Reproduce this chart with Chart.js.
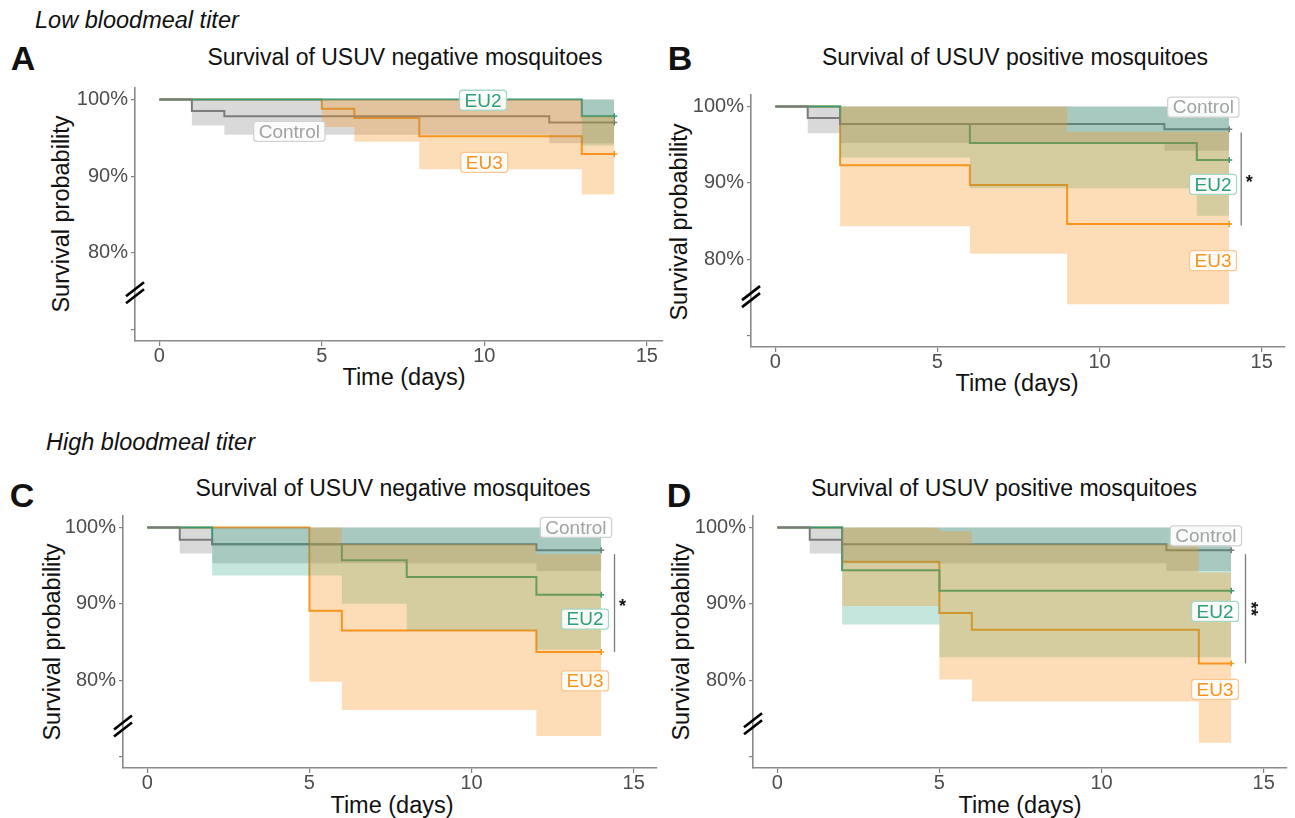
<!DOCTYPE html>
<html>
<head>
<meta charset="utf-8">
<script src="https://cdn.jsdelivr.net/npm/chart.js@4.4.1/dist/chart.umd.min.js"></script>
<style>
  body { margin: 0; width: 1295px; height: 818px; background: #fff; position: relative; overflow: hidden;
         font-family: "Liberation Sans", Arial, sans-serif; color: #111; }
  .t { position: absolute; white-space: nowrap; transform: translate(-50%, -50%); }
  .l { position: absolute; white-space: nowrap; transform: translateY(-50%); }
  .head { font-style: italic; font-size: 23.5px; }
  .letter { font-weight: bold; font-size: 34px; }
  .title { font-size: 23px; }
  .axt { font-size: 23.5px; }
  .rot { transform: translate(-50%, -50%) rotate(-90deg); }
  canvas { position: absolute; }
</style>
</head>
<body>

<div class="l head" style="left:35px;top:20px">Low bloodmeal titer</div>
<div class="l head" style="left:46px;top:442px">High bloodmeal titer</div>

<div class="t letter" style="left:23px;top:58px">A</div>
<div class="t letter" style="left:680px;top:58px">B</div>
<div class="t letter" style="left:22px;top:495px">C</div>
<div class="t letter" style="left:679px;top:495px">D</div>

<div class="t title" style="left:405px;top:57px">Survival of USUV negative mosquitoes</div>
<div class="t title" style="left:1015px;top:57px">Survival of USUV positive mosquitoes</div>
<div class="t title" style="left:393px;top:488px">Survival of USUV negative mosquitoes</div>
<div class="t title" style="left:1004px;top:488px">Survival of USUV positive mosquitoes</div>

<div class="t axt rot" style="left:61px;top:214px">Survival probability</div>
<div class="t axt rot" style="left:679px;top:222px">Survival probability</div>
<div class="t axt rot" style="left:52px;top:642px">Survival probability</div>
<div class="t axt rot" style="left:681px;top:642px">Survival probability</div>

<div class="t axt" style="left:404px;top:377px">Time (days)</div>
<div class="t axt" style="left:1017px;top:383px">Time (days)</div>
<div class="t axt" style="left:392px;top:805px">Time (days)</div>
<div class="t axt" style="left:1020px;top:805px">Time (days)</div>

<canvas id="cA"></canvas>
<canvas id="cB"></canvas>
<canvas id="cC"></canvas>
<canvas id="cD"></canvas>

<script>
// ---- axis ticks ----
const xTicks = [0, 5, 10, 15];
const yTicks = [70, 80, 90, 100];

// ---- A: low titer, USUV negative ----
const aCtrlDays = [0, 1, 2, 12, 14];
const aCtrlSurv = [100, 98.5, 97.8, 97.0, 97.0];
const aCtrlLow  = [100, 96.6, 95.4, 94.3, 94.3];
const aCtrlHigh = [100, 100, 100, 100, 100];
const aEu2Days = [0, 13, 14];
const aEu2Surv = [100, 97.8, 97.8];
const aEu2Low  = [100, 94.0, 94.0];
const aEu2High = [100, 100, 100];
const aEu3Days = [0, 5, 6, 8, 13, 14];
const aEu3Surv = [100, 98.8, 97.6, 95.2, 92.9, 92.9];
const aEu3Low  = [100, 96.4, 94.5, 90.9, 87.6, 87.6];
const aEu3High = [100, 100, 100, 100, 97.8, 97.8];

// ---- B: low titer, USUV positive ----
const bCtrlDays = [0, 1, 2, 12, 14];
const bCtrlSurv = [100, 98.5, 97.7, 97.0, 97.0];
const bCtrlLow  = [100, 96.5, 95.2, 94.2, 94.2];
const bCtrlHigh = [100, 100, 100, 100, 100];
const bEu2Days = [0, 2, 6, 13, 14];
const bEu2Surv = [100, 97.7, 95.2, 93.0, 93.0];
const bEu2Low  = [100, 93.3, 89.3, 85.7, 85.7];
const bEu2High = [100, 100, 100, 100, 100];
const bEu3Days = [0, 2, 6, 9, 14];
const bEu3Surv = [100, 92.3, 89.7, 84.6, 84.6];
const bEu3Low  = [100, 84.3, 80.7, 74.1, 74.1];
const bEu3High = [100, 100, 100, 96.7, 96.7];

// ---- C: high titer, USUV negative ----
const cCtrlDays = [0, 1, 2, 12, 14];
const cCtrlSurv = [100, 98.4, 97.8, 97.0, 97.0];
const cCtrlLow  = [100, 96.6, 95.3, 94.3, 94.3];
const cCtrlHigh = [100, 100, 100, 100, 100];
const cEu2Days = [0, 2, 6, 8, 12, 14];
const cEu2Surv = [100, 97.8, 95.7, 93.5, 91.2, 91.2];
const cEu2Low  = [100, 93.7, 90.0, 86.5, 84.0, 84.0];
const cEu2High = [100, 100, 100, 100, 100, 100];
const cEu3Days = [0, 5, 6, 12, 14];
const cEu3Surv = [100, 89.1, 86.5, 83.7, 83.7];
const cEu3Low  = [100, 79.8, 76.1, 72.7, 72.7];
const cEu3High = [100, 100, 97.8, 96.5, 96.5];

// ---- D: high titer, USUV positive ----
const dCtrlDays = [0, 1, 2, 12, 14];
const dCtrlSurv = [100, 98.4, 97.8, 97.0, 97.0];
const dCtrlLow  = [100, 96.6, 95.3, 94.3, 94.3];
const dCtrlHigh = [100, 100, 100, 100, 100];
const dEu2Days = [0, 2, 5, 14];
const dEu2Surv = [100, 94.4, 91.7, 91.7];
const dEu2Low  = [100, 87.3, 83.0, 83.0];
const dEu2High = [100, 100, 100, 100];
const dEu3Days = [0, 2, 5, 6, 13, 14];
const dEu3Surv = [100, 95.5, 88.8, 86.6, 82.2, 82.2];
const dEu3Low  = [100, 89.7, 80.1, 77.2, 71.8, 71.8];
const dEu3High = [100, 100, 99.5, 97.8, 94.1, 94.1];

const FONT = '"Liberation Sans", Arial, sans-serif';
const STYLE = {
  Control: { line: '#7a7a7a', band: 'rgba(128,128,128,0.30)', text: '#a3a3a3', edge: '#d2d2d2', order: 3 },
  EU2:     { line: '#2a9d78', band: 'rgba(27,158,119,0.26)',  text: '#2aa07c', edge: '#a6d8c7', order: 2 },
  EU3:     { line: '#f8961e', band: 'rgba(248,150,30,0.32)',  text: '#f7941d', edge: '#fbc68d', order: 1 }
};

function pts(days, vals) { return days.map((d, i) => ({ x: d, y: vals[i] })); }

// one group = CI ribbon (upper filled to lower) + the KM step line
function groupSets(name, days, surv, low, high) {
  const s = STYLE[name];
  const last = days.length - 1;
  const hidden = { stepped: true, borderWidth: 0, borderColor: 'rgba(0,0,0,0)', pointRadius: 0, order: s.order };
  return [
    Object.assign({ data: pts(days, high), fill: '+1', backgroundColor: s.band }, hidden),
    Object.assign({ data: pts(days, low), fill: false }, hidden),
    { data: pts(days, surv), stepped: true, borderColor: s.line, borderWidth: 2, fill: false, order: 10,
      pointStyle: 'cross', pointBorderColor: s.line, pointBorderWidth: 1.5,
      pointRadius: c => c.dataIndex === last ? 3 : 0 }
  ];
}

// group labels, significance bracket, axis break marks
const extras = {
  id: 'extras',
  afterDatasetsDraw(chart, args, o) {
    const { ctx } = chart;
    const xs = chart.scales.x, ys = chart.scales.y;
    ctx.save();
    ctx.font = '19px ' + FONT;
    ctx.textAlign = 'center';
    ctx.textBaseline = 'middle';
    (o.labels || []).forEach(l => {
      const s = STYLE[l.name];
      const px = xs.getPixelForValue(l.x), py = ys.getPixelForValue(l.y);
      const w = ctx.measureText(l.name).width + 10, h = 20;
      ctx.beginPath();
      ctx.roundRect(px - w / 2, py - h / 2, w, h, 3);
      ctx.fillStyle = 'rgba(255,255,255,0.9)';
      ctx.fill();
      ctx.strokeStyle = s.edge;
      ctx.lineWidth = 1.3;
      ctx.stroke();
      ctx.fillStyle = s.text;
      ctx.fillText(l.name, px, py + 1);
    });
    if (o.bracket) {
      const b = o.bracket;
      const bx = xs.getPixelForValue(b.x);
      ctx.strokeStyle = '#7a7a7a';
      ctx.lineWidth = 1.3;
      ctx.beginPath();
      ctx.moveTo(bx, ys.getPixelForValue(b.from));
      ctx.lineTo(bx, ys.getPixelForValue(b.to));
      ctx.stroke();
      const sx = bx + 8, sy = ys.getPixelForValue((b.from + b.to) / 2);
      ctx.fillStyle = '#111';
      ctx.font = 'bold 18px ' + FONT;
      ctx.translate(sx, sy);
      if (b.stars.length > 1) ctx.rotate(Math.PI / 2);
      ctx.fillText(b.stars, 0, 4);
      ctx.setTransform(1, 0, 0, 1, 0, 0);
    }
    const kx = xs.left, ky = ys.getPixelForValue(o.breakAt);
    ctx.strokeStyle = '#000';
    ctx.lineWidth = 2.6;
    [-3.5, 3.5].forEach(off => {
      ctx.beginPath();
      ctx.moveTo(kx - 9, ky + off + 7);
      ctx.lineTo(kx + 9, ky + off - 7);
      ctx.stroke();
    });
    ctx.restore();
  }
};

function panelConfig(sets, xMax, labels, bracket, breakAt, pad) {
  const tickFont = { family: FONT, size: 20 };
  return {
    type: 'line',
    data: { datasets: sets },
    plugins: [extras],
    options: {
      responsive: false, maintainAspectRatio: false, animation: false, events: [],
      layout: { padding: { left: 0, top: pad.t, right: pad.r, bottom: 0 } },
      plugins: { legend: { display: false }, tooltip: { enabled: false },
                 extras: { labels, bracket, breakAt } },
      scales: {
        x: {
          type: 'linear', min: -0.75, max: xMax,
          afterBuildTicks: s => { s.ticks = xTicks.map(v => ({ value: v })); },
          afterFit: s => { s.height = pad.b; },
          ticks: { color: '#4d4d4d', font: tickFont, padding: -2, maxRotation: 0, autoSkip: false },
          grid: { drawOnChartArea: false, tickLength: 5, color: '#808080', lineWidth: 1.2 },
          border: { color: '#8a8a8a', width: 1.6 }
        },
        y: {
          type: 'linear', min: 68.5, max: 101.5,
          afterBuildTicks: s => { s.ticks = yTicks.map(v => ({ value: v })); },
          afterFit: s => { s.width = pad.l; },
          ticks: { color: '#4d4d4d', font: tickFont, padding: 3, autoSkip: false,
                   callback: v => v === 70 ? '' : v + '%' },
          grid: { drawOnChartArea: false, tickLength: 4, color: '#808080', lineWidth: 1.2 },
          border: { color: '#8a8a8a', width: 1.6 }
        }
      }
    }
  };
}

function place(cv, left, top, w, h) {
  cv.width = w; cv.height = h;
  cv.style.left = left + 'px'; cv.style.top = top + 'px';
  cv.style.width = w + 'px'; cv.style.height = h + 'px';
}

// area = wanted plot rectangle on the page; the canvas is grown so that
// Chart.js's own label padding does not shift or shrink the plot
function makePanel(id, area, xMax, sets, labels, bracket, breakAt) {
  const pad = { l: 80, t: 10, r: 30, b: 30 };
  const cv = document.getElementById(id);
  const w = area.right - area.left + pad.l + pad.r;
  const h = area.bottom - area.top + pad.t + pad.b;
  place(cv, area.left - pad.l, area.top - pad.t, w, h);
  let chart = new Chart(cv, panelConfig(sets, xMax, labels, bracket, breakAt, pad));
  const ca = chart.chartArea;
  const exL = ca.left - pad.l, exT = ca.top - pad.t;
  const exR = (w - pad.r) - ca.right, exB = (h - pad.b) - ca.bottom;
  if (exL || exT || exR || exB) {
    chart.destroy();
    place(cv, area.left - pad.l - exL, area.top - pad.t - exT, w + exL + exR, h + exT + exB);
    chart = new Chart(cv, panelConfig(sets, xMax, labels, bracket, breakAt, pad));
  }
}

makePanel('cA', { left: 135, top: 88, right: 663, bottom: 341 }, 15.5,
  [].concat(groupSets('Control', aCtrlDays, aCtrlSurv, aCtrlLow, aCtrlHigh),
            groupSets('EU2', aEu2Days, aEu2Surv, aEu2Low, aEu2High),
            groupSets('EU3', aEu3Days, aEu3Surv, aEu3Low, aEu3High)),
  [{ name: 'Control', x: 4.0, y: 95.85 }, { name: 'EU2', x: 9.96, y: 99.9 }, { name: 'EU3', x: 10.0, y: 91.8 }],
  null, 74.8);

makePanel('cB', { left: 751, top: 95, right: 1285, bottom: 347 }, 15.72,
  [].concat(groupSets('Control', bCtrlDays, bCtrlSurv, bCtrlLow, bCtrlHigh),
            groupSets('EU2', bEu2Days, bEu2Surv, bEu2Low, bEu2High),
            groupSets('EU3', bEu3Days, bEu3Surv, bEu3Low, bEu3High)),
  [{ name: 'Control', x: 13.2, y: 99.9 }, { name: 'EU2', x: 13.5, y: 89.8 }, { name: 'EU3', x: 13.5, y: 79.8 }],
  { x: 14.37, from: 96.6, to: 84.4, stars: '*' }, 75.1);

makePanel('cC', { left: 123, top: 516, right: 657, bottom: 768 }, 15.72,
  [].concat(groupSets('Control', cCtrlDays, cCtrlSurv, cCtrlLow, cCtrlHigh),
            groupSets('EU2', cEu2Days, cEu2Surv, cEu2Low, cEu2High),
            groupSets('EU3', cEu3Days, cEu3Surv, cEu3Low, cEu3High)),
  [{ name: 'Control', x: 13.22, y: 100 }, { name: 'EU2', x: 13.5, y: 88.0 }, { name: 'EU3', x: 13.5, y: 79.9 }],
  { x: 14.41, from: 96.5, to: 83.7, stars: '*' }, 74.0);

makePanel('cD', { left: 753, top: 516, right: 1287, bottom: 768 }, 15.72,
  [].concat(groupSets('Control', dCtrlDays, dCtrlSurv, dCtrlLow, dCtrlHigh),
            groupSets('EU2', dEu2Days, dEu2Surv, dEu2Low, dEu2High),
            groupSets('EU3', dEu3Days, dEu3Surv, dEu3Low, dEu3High)),
  [{ name: 'Control', x: 13.22, y: 98.9 }, { name: 'EU2', x: 13.5, y: 89.0 }, { name: 'EU3', x: 13.5, y: 78.8 }],
  { x: 14.44, from: 96.5, to: 82.2, stars: '**' }, 74.3);
</script>
</body>
</html>
